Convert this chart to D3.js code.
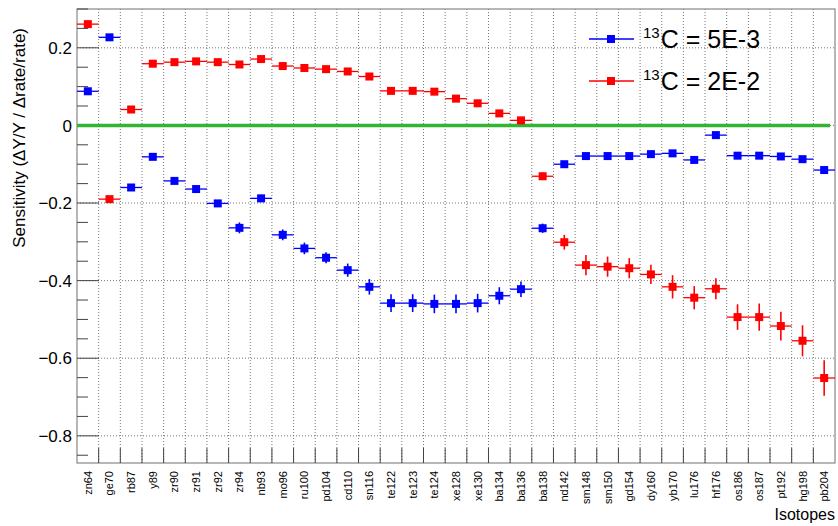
<!DOCTYPE html>
<html><head><meta charset="utf-8">
<script src="https://cdn.jsdelivr.net/npm/d3@7"></script>
<style>body{margin:0;background:#fff}svg{display:block}text{font-family:"Liberation Sans",Arial,sans-serif;fill:#000}</style>
</head><body>
<svg id="c" width="838" height="526"></svg>
<script>
const isotopes = ["zn64","ge70","rb87","y89","zr90","zr91","zr92","zr94","nb93","mo96","ru100","pd104","cd110","sn116","te122","te123","te124","xe128","xe130","ba134","ba136","ba138","nd142","sm148","sm150","gd154","dy160","yb170","lu176","hf176","os186","os187","pt192","hg198","pb204"];
const blueVals = [0.088,0.227,-0.160,-0.081,-0.143,-0.164,-0.201,-0.264,-0.188,-0.282,-0.317,-0.341,-0.373,-0.416,-0.458,-0.458,-0.460,-0.460,-0.458,-0.439,-0.422,-0.265,-0.100,-0.079,-0.079,-0.079,-0.074,-0.072,-0.089,-0.025,-0.078,-0.078,-0.080,-0.087,-0.115];
const blueErrs = [0.004,0.004,0.005,0.006,0.007,0.008,0.008,0.014,0.009,0.014,0.015,0.014,0.017,0.020,0.023,0.023,0.024,0.024,0.024,0.022,0.020,0.012,0.006,0.005,0.005,0.005,0.005,0.006,0.006,0.006,0.005,0.005,0.005,0.006,0.007];
const redVals = [0.261,-0.190,0.041,0.159,0.163,0.165,0.163,0.157,0.171,0.153,0.148,0.145,0.139,0.126,0.089,0.089,0.087,0.069,0.057,0.031,0.013,-0.131,-0.301,-0.360,-0.364,-0.368,-0.384,-0.416,-0.444,-0.421,-0.494,-0.494,-0.517,-0.555,-0.651];
const redErrs = [0.005,0.004,0.004,0.005,0.005,0.005,0.005,0.005,0.005,0.005,0.005,0.005,0.006,0.006,0.006,0.006,0.006,0.006,0.006,0.006,0.006,0.010,0.019,0.026,0.026,0.026,0.025,0.030,0.030,0.027,0.033,0.035,0.037,0.040,0.046];
const yTicks = [0.2,0,-0.2,-0.4,-0.6,-0.8];
const yTickLabels = ["0.2","0","\u22120.2","\u22120.4","\u22120.6","\u22120.8"];
const legendLabels = [["13","C = 5E-3"],["13","C = 2E-2"]];
const colors = ["#0000ff","#ff0000"];

const svg = d3.select("#c");
const L=77, R=835, T=9, B=463;
const x = d3.scaleBand().domain(isotopes).range([L,R]).padding(0);
const y = d3.scaleLinear().domain([-0.87,0.3]).range([B,T]);
const bw = x.bandwidth();

// grid
const g = svg.append("g");
const edges = isotopes.slice(1).map(d=>x(d));
g.selectAll("line.vg").data(edges).join("line")
  .attr("x1",d=>d).attr("x2",d=>d).attr("y1",T).attr("y2",B)
  .attr("stroke","#666").attr("stroke-width",0.9).attr("stroke-dasharray","1,2");
g.selectAll("line.hg").data(yTicks).join("line")
  .attr("x1",L).attr("x2",R).attr("y1",d=>y(d)).attr("y2",d=>y(d))
  .attr("stroke","#666").attr("stroke-width",0.9).attr("stroke-dasharray","1,2");

// frame
svg.append("rect").attr("x",L).attr("y",T).attr("width",R-L).attr("height",B-T)
  .attr("fill","none").attr("stroke","#888").attr("stroke-width",1.2);

// y axis ticks
const minor = d3.range(-0.85,0.3001,0.05).map(v=>Math.round(v*100)/100);
svg.selectAll("line.ymin").data(minor).join("line")
  .attr("x1",L).attr("x2",d=>yTicks.some(t=>Math.abs(t-d)<1e-6)?L+22:L+11)
  .attr("y1",d=>y(d)).attr("y2",d=>y(d)).attr("stroke","#444").attr("stroke-width",1);
svg.selectAll("text.yl").data(yTicks).join("text")
  .attr("x",L-5).attr("y",d=>y(d)).attr("dy","0.36em").attr("text-anchor","end")
  .attr("font-size",17).text((d,i)=>yTickLabels[i]);
// x ticks
svg.selectAll("line.xt").data(edges).join("line")
  .attr("x1",d=>d).attr("x2",d=>d).attr("y1",B).attr("y2",B-15)
  .attr("stroke","#444").attr("stroke-width",1);
svg.selectAll("text.xl").data(isotopes).join("text")
  .attr("transform",d=>`translate(${x(d)+bw/2+4},${B+8}) rotate(-90)`)
  .attr("text-anchor","end").attr("font-size",11).text(d=>d);

// zero line
svg.append("line").attr("x1",L).attr("x2",830).attr("y1",y(0)).attr("y2",y(0))
  .attr("stroke","#33b533").attr("stroke-width",3.5);

// series
const series = [[blueVals,blueErrs],[redVals,redErrs]];
series.forEach(([vals,errs],si)=>{
  const c = colors[si];
  const sg = svg.append("g");
  const data = isotopes.map((d,i)=>({k:d,v:vals[i],e:errs[i]}));
  sg.selectAll("line.h").data(data).join("line")
    .attr("x1",d=>x(d.k)).attr("x2",d=>x(d.k)+bw).attr("y1",d=>y(d.v)).attr("y2",d=>y(d.v))
    .attr("stroke",c).attr("stroke-width",1.3);
  sg.selectAll("line.v").data(data).join("line")
    .attr("x1",d=>x(d.k)+bw/2).attr("x2",d=>x(d.k)+bw/2).attr("y1",d=>y(d.v+d.e)).attr("y2",d=>y(d.v-d.e))
    .attr("stroke",c).attr("stroke-width",1.6);
  sg.selectAll("rect").data(data).join("rect")
    .attr("x",d=>x(d.k)+bw/2-4).attr("y",d=>y(d.v)-4).attr("width",8).attr("height",8).attr("fill",c);
});

// legend
legendLabels.forEach((lab,i)=>{
  const ly = 39 + i*42;
  svg.append("line").attr("x1",589).attr("x2",634).attr("y1",ly).attr("y2",ly).attr("stroke",colors[i]).attr("stroke-width",1.3);
  svg.append("rect").attr("x",607).attr("y",ly-4).attr("width",8).attr("height",8).attr("fill",colors[i]);
  const t = svg.append("text").attr("x",643).attr("y",ly+9).attr("font-size",25);
  t.append("tspan").attr("font-size",15).attr("dy",-10).text(lab[0]);
  t.append("tspan").attr("dy",10).attr("dx",1).text(lab[1]);
});

// titles
svg.append("text").attr("transform",`translate(25,28) rotate(-90)`).attr("text-anchor","end")
  .attr("font-size",17).text("Sensitivity (\u0394Y/Y / \u0394rate/rate)");
svg.append("text").attr("x",835).attr("y",520).attr("text-anchor","end").attr("font-size",16).text("Isotopes");
</script>
</body></html>
